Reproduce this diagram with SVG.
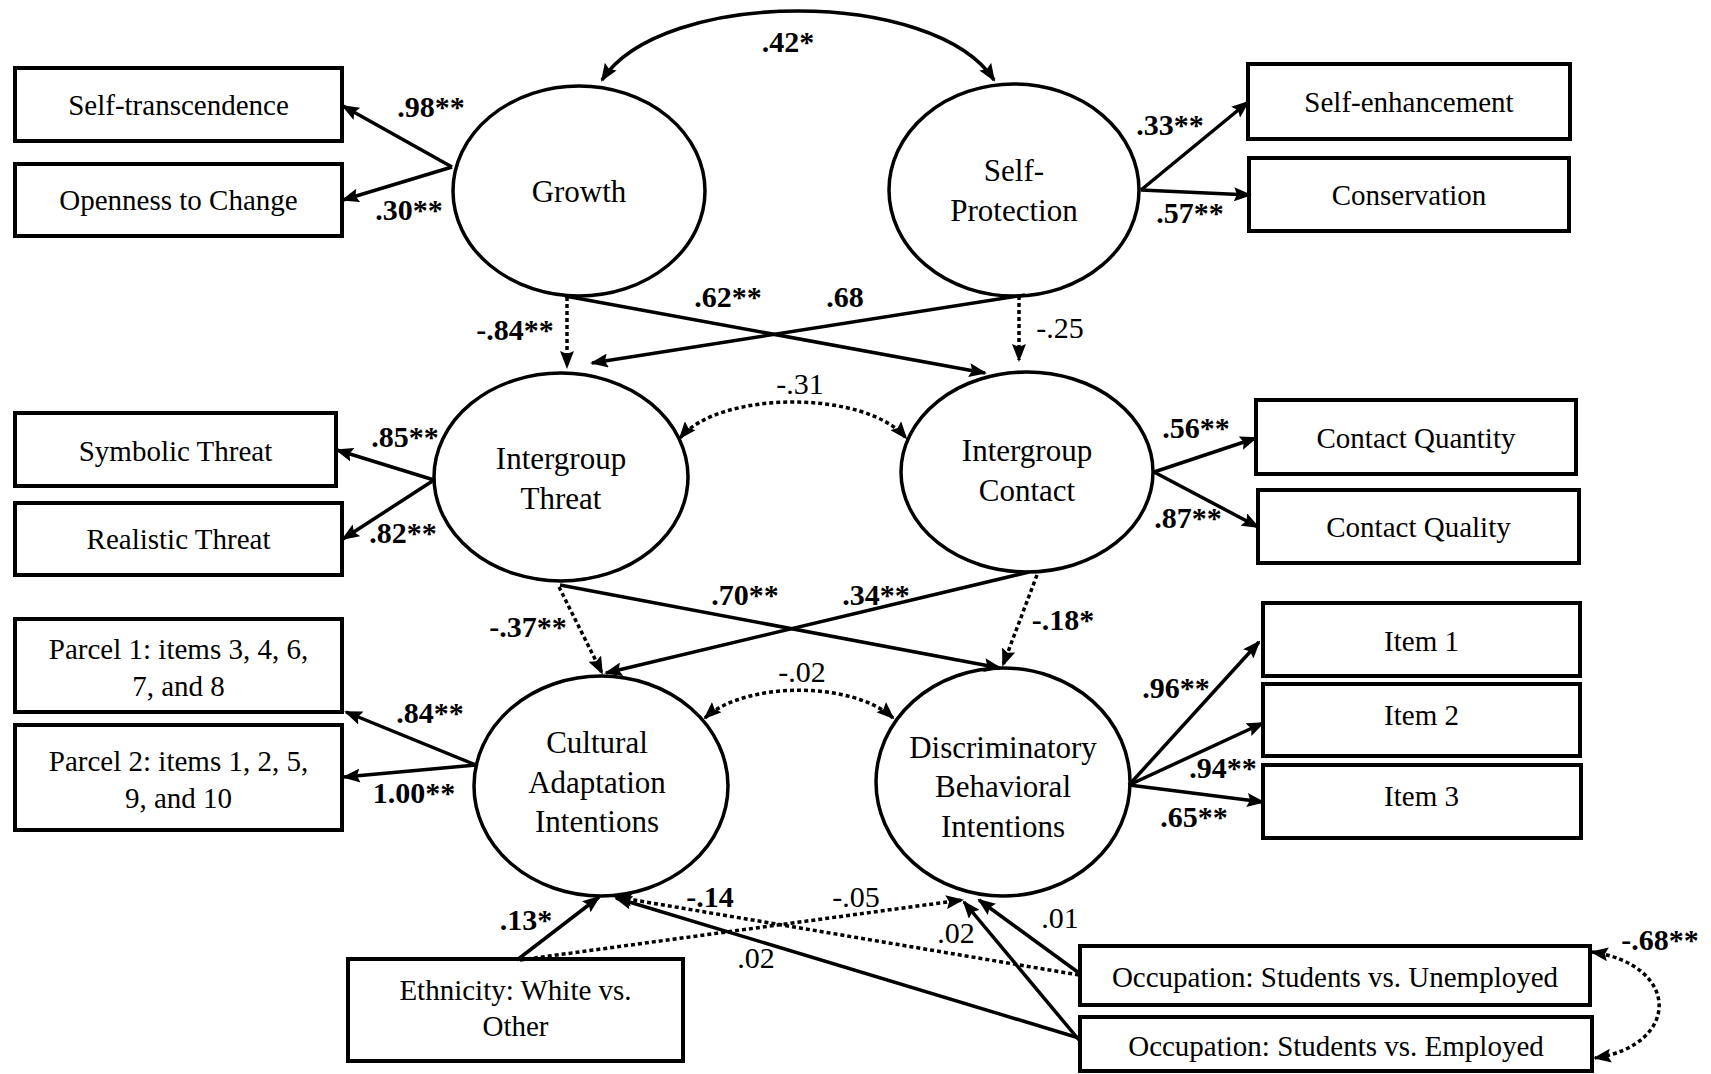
<svg xmlns="http://www.w3.org/2000/svg" width="1711" height="1074" viewBox="0 0 1711 1074">
<style>
text{font-family:"Liberation Serif","Times New Roman",serif;fill:#000;text-anchor:middle}
.bx{fill:#fff;stroke:#000;stroke-width:4}
.el{fill:#fff;stroke:#000;stroke-width:3.5}
.tb{font-size:29px}
.te{font-size:31px}
.lb{font-size:30px;font-weight:bold}
.ln{font-size:30px}
.c{fill:none;stroke:#000;stroke-width:3.5;marker-end:url(#ah)}
.d{stroke-dasharray:4 3}
.bi{marker-start:url(#ah)}
</style>
<defs>
<marker id="ah" markerUnits="userSpaceOnUse" markerWidth="18" markerHeight="14" viewBox="0 0 18 14" refX="16" refY="7" orient="auto-start-reverse"><path d="M0,0 L18,7 L0,14 L3,7 z" fill="#000"/></marker>
</defs>
<rect x="0" y="0" width="1711" height="1074" fill="#fff"/>
<g id="nodes">
<g id="self-transcendence"><rect class="bx" x="15" y="68" width="327" height="73"/><text class="tb" x="178.5" y="115">Self-transcendence</text></g>
<g id="openness"><rect class="bx" x="15" y="164" width="327" height="72"/><text class="tb" x="178.5" y="210">Openness to Change</text></g>
<g id="self-enhancement"><rect class="bx" x="1248" y="64" width="322" height="75"/><text class="tb" x="1409" y="112">Self-enhancement</text></g>
<g id="conservation"><rect class="bx" x="1249" y="158" width="320" height="73"/><text class="tb" x="1409" y="205">Conservation</text></g>
<g id="symbolic-threat"><rect class="bx" x="15" y="413" width="321" height="73"/><text class="tb" x="175.5" y="461">Symbolic Threat</text></g>
<g id="realistic-threat"><rect class="bx" x="15" y="503" width="327" height="72"/><text class="tb" x="178.5" y="549">Realistic Threat</text></g>
<g id="contact-quantity"><rect class="bx" x="1256" y="400" width="320" height="74"/><text class="tb" x="1416" y="448">Contact Quantity</text></g>
<g id="contact-quality"><rect class="bx" x="1258" y="490" width="321" height="73"/><text class="tb" x="1418.5" y="537">Contact Quality</text></g>
<g id="parcel1"><rect class="bx" x="15" y="619" width="327" height="93"/><text class="tb" x="178.5" y="659">Parcel 1: items 3, 4, 6,</text><text class="tb" x="178.5" y="696">7, and 8</text></g>
<g id="parcel2"><rect class="bx" x="15" y="725" width="327" height="105"/><text class="tb" x="178.5" y="771">Parcel 2: items 1, 2, 5,</text><text class="tb" x="178.5" y="808">9, and 10</text></g>
<g id="item1"><rect class="bx" x="1263" y="603" width="317" height="73"/><text class="tb" x="1421.5" y="651">Item 1</text></g>
<g id="item2"><rect class="bx" x="1263" y="684" width="317" height="72"/><text class="tb" x="1421.5" y="725">Item 2</text></g>
<g id="item3"><rect class="bx" x="1263" y="765" width="318" height="73"/><text class="tb" x="1421.5" y="806">Item 3</text></g>
<g id="ethnicity"><rect class="bx" x="348" y="959" width="335" height="102"/><text class="tb" x="515.5" y="1000">Ethnicity: White vs.</text><text class="tb" x="515.5" y="1036">Other</text></g>
<g id="occ-unemployed"><rect class="bx" x="1080" y="946" width="510" height="59"/><text class="tb" x="1335" y="987">Occupation: Students vs. Unemployed</text></g>
<g id="occ-employed"><rect class="bx" x="1080" y="1017" width="512" height="54"/><text class="tb" x="1336" y="1056">Occupation: Students vs. Employed</text></g>
<g id="growth"><ellipse class="el" cx="579" cy="191" rx="126" ry="105"/><text class="te" x="579" y="202">Growth</text></g>
<g id="self-protection"><ellipse class="el" cx="1014" cy="190" rx="125" ry="106"/><text class="te" x="1014" y="181">Self-</text><text class="te" x="1014" y="221">Protection</text></g>
<g id="intergroup-threat"><ellipse class="el" cx="561" cy="477" rx="127" ry="104"/><text class="te" x="561" y="469">Intergroup</text><text class="te" x="561" y="509">Threat</text></g>
<g id="intergroup-contact"><ellipse class="el" cx="1027" cy="472" rx="126" ry="100"/><text class="te" x="1027" y="461">Intergroup</text><text class="te" x="1027" y="501">Contact</text></g>
<g id="cultural-adaptation"><ellipse class="el" cx="601" cy="786" rx="127" ry="110"/><text class="te" x="597" y="753">Cultural</text><text class="te" x="597" y="793">Adaptation</text><text class="te" x="597" y="832">Intentions</text></g>
<g id="discriminatory"><ellipse class="el" cx="1003" cy="782" rx="127" ry="114"/><text class="te" x="1003" y="758">Discriminatory</text><text class="te" x="1003" y="797">Behavioral</text><text class="te" x="1003" y="837">Intentions</text></g>
</g>
<g id="connectors">
<path class="c bi" d="M602,80 C662,-12 934,-12 994,80"/>
<path class="c" d="M452,167 L343,106"/>
<path class="c" d="M452,167 L343,200"/>
<path class="c" d="M1141,190 L1248,102"/>
<path class="c" d="M1141,190 L1250,195"/>
<path class="c d" d="M567,297 L567,367"/>
<path class="c" d="M565,296 L985,373"/>
<path class="c" d="M1025,295 L592,363"/>
<path class="c d" d="M1019,296 L1019,360"/>
<path class="c d bi" d="M680,438 C720,390 866,390 906,438"/>
<path class="c" d="M434,480 L337,450"/>
<path class="c" d="M434,480 L343,539"/>
<path class="c" d="M1154,472 L1256,438"/>
<path class="c" d="M1154,472 L1258,527"/>
<path class="c d" d="M559,587 L602,673"/>
<path class="c" d="M560,585 L1000,668"/>
<path class="c" d="M1029,572 L606,673"/>
<path class="c d" d="M1037,575 L1003,665"/>
<path class="c d bi" d="M705,718 C745,681 853,681 893,718"/>
<path class="c" d="M476,765 L346,712"/>
<path class="c" d="M476,765 L344,777"/>
<path class="c" d="M1129,785 L1259,642"/>
<path class="c" d="M1129,785 L1263,723"/>
<path class="c" d="M1129,785 L1263,802"/>
<path class="c" d="M517,960 L599,897"/>
<path class="c d" d="M520,960 L962,900"/>
<path class="c d" d="M1079,975 L616,897"/>
<path class="c" d="M1079,973 L979,900"/>
<path class="c" d="M1079,1040 L964,902"/>
<path class="c" d="M1079,1038 L616,898"/>
<path class="c d bi" d="M1592,952 C1681,965 1681,1045 1595,1058"/>
</g>
<g id="edge-labels">
<text class="lb" x="788" y="52">.42*</text>
<text class="lb" x="431" y="117">.98**</text>
<text class="lb" x="409" y="220">.30**</text>
<text class="lb" x="1170" y="135">.33**</text>
<text class="lb" x="1190" y="223">.57**</text>
<text class="lb" x="515" y="340">-.84**</text>
<text class="lb" x="728" y="307">.62**</text>
<text class="lb" x="845" y="307">.68</text>
<text class="ln" x="1060" y="338">-.25</text>
<text class="ln" x="800" y="394">-.31</text>
<text class="lb" x="405" y="447">.85**</text>
<text class="lb" x="403" y="543">.82**</text>
<text class="lb" x="1196" y="438">.56**</text>
<text class="lb" x="1188" y="528">.87**</text>
<text class="lb" x="528" y="637">-.37**</text>
<text class="lb" x="745" y="605">.70**</text>
<text class="lb" x="876" y="605">.34**</text>
<text class="lb" x="1063" y="630">-.18*</text>
<text class="ln" x="802" y="682">-.02</text>
<text class="lb" x="430" y="723">.84**</text>
<text class="lb" x="414" y="803">1.00**</text>
<text class="lb" x="1176" y="698">.96**</text>
<text class="lb" x="1223" y="778">.94**</text>
<text class="lb" x="1194" y="827">.65**</text>
<text class="lb" x="526" y="930">.13*</text>
<text class="ln" x="856" y="907">-.05</text>
<text class="lb" x="710" y="907">-.14</text>
<text class="ln" x="1060" y="928">.01</text>
<text class="ln" x="956" y="943">.02</text>
<text class="ln" x="756" y="968">.02</text>
<text class="lb" x="1660" y="950">-.68**</text>
</g>
</svg>
